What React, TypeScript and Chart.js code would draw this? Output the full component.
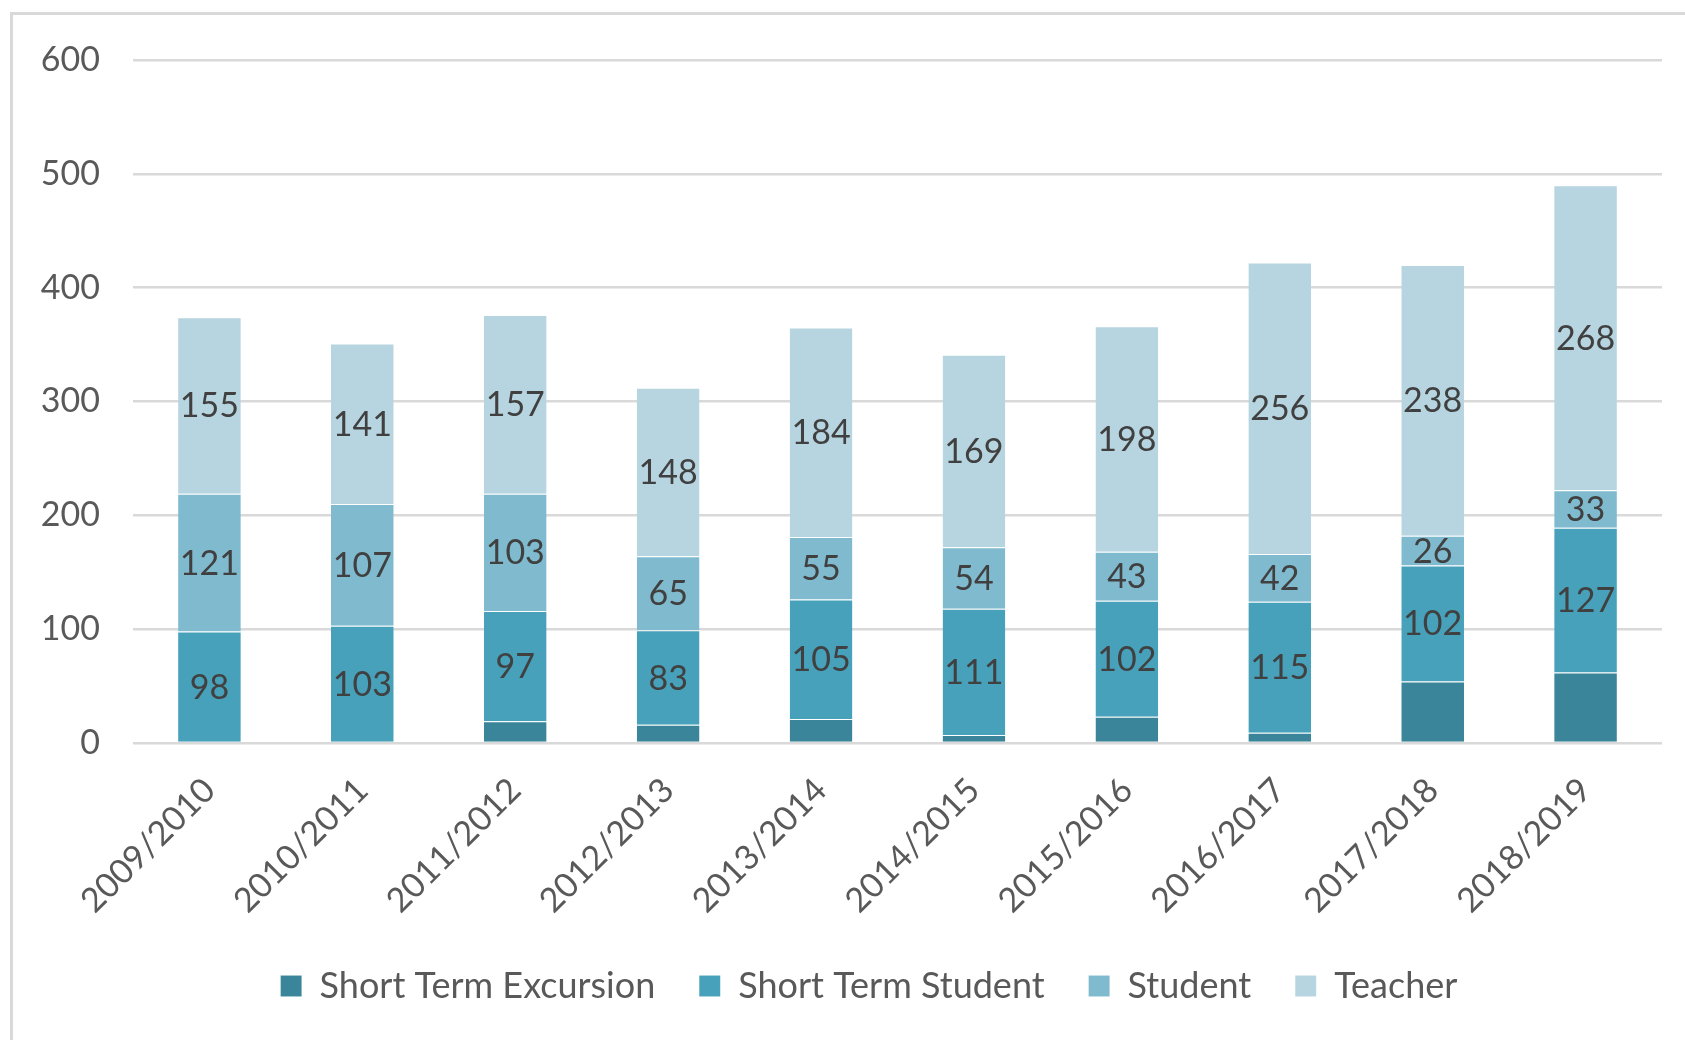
import React, { useEffect, useRef } from "react";
import { Chart, registerables } from "chart.js";

Chart.register(...registerables);

const categories = [
  "2009/2010", "2010/2011", "2011/2012", "2012/2013", "2013/2014",
  "2014/2015", "2015/2016", "2016/2017", "2017/2018", "2018/2019",
];
const shortTermExcursion = [0, 0, 19, 16, 21, 7, 23, 9, 54, 62];
const shortTermStudent = [98, 103, 97, 83, 105, 111, 102, 115, 102, 127];
const student = [121, 107, 103, 65, 55, 54, 43, 42, 26, 33];
const teacher = [155, 141, 157, 148, 184, 169, 198, 256, 238, 268];
const seriesNames = ["Short Term Excursion", "Short Term Student", "Student", "Teacher"];
const seriesColors = ["#3A8599", "#47A1BA", "#7FBACF", "#B7D5E0"];
const labelledSeries = [false, true, true, true];
const yTicks = [0, 100, 200, 300, 400, 500, 600];

const FONT = "Lato";

const dataLabelPlugin = {
  id: "segLabels",
  afterDatasetsDraw(chart: any) {
    const ctx = chart.ctx;
    ctx.save();
    ctx.font = `34px ${FONT}`;
    ctx.fillStyle = "#404040";
    ctx.textAlign = "center";
    ctx.textBaseline = "middle";
    chart.data.datasets.forEach((ds: any, i: number) => {
      if (!labelledSeries[i]) return;
      const meta = chart.getDatasetMeta(i);
      meta.data.forEach((bar: any, j: number) => {
        const p = bar.getProps(["x", "y", "base"], true);
        ctx.fillText(String(ds.data[j]), p.x, (p.y + p.base) / 2 + 1);
      });
    });
    ctx.restore();
  },
};

// shift the legend block so it is centred under the plot area like the reference
const legendShiftPlugin = {
  id: "legendShift",
  afterLayout(chart: any) {
    if (chart.legend) {
      chart.legend.left += 76;
    }
  },
};

export default function App() {
  const ref = useRef<HTMLCanvasElement>(null);
  useEffect(() => {
    const canvas = ref.current!;
    const values = [shortTermExcursion, shortTermStudent, student, teacher];
    const chart = new Chart(canvas, {
      type: "bar",
      data: {
        labels: categories,
        datasets: values.map((v, i) => ({
          label: seriesNames[i],
          data: v,
          backgroundColor: seriesColors[i],
          borderColor: "rgba(255,255,255,0.35)",
          borderWidth: { top: 1, bottom: 0, left: 0, right: 0 },
          borderSkipped: false,
          barPercentage: 0.41,
          categoryPercentage: 1,
        })),
      },
      options: {
        responsive: false,
        animation: false,
        devicePixelRatio: 1,
        layout: { padding: { top: 60, left: 0, right: 23, bottom: 26 } },
        plugins: {
          tooltip: { enabled: false },
          legend: {
            position: "bottom",
            labels: {
              font: { family: FONT, size: 36 },
              color: "#595959",
              boxWidth: 21,
              boxHeight: 21,
              padding: 44,
            },
          },
        },
        scales: {
          x: {
            stacked: true,
            grid: { display: false, drawTicks: false },
            border: { display: false },
            ticks: {
              font: { family: FONT, size: 34 },
              color: "#595959",
              maxRotation: 45,
              minRotation: 45,
              autoSkip: false,
              padding: 27,
            },
            afterFit(scale: any) {
              scale.height = 181;
            },
          },
          y: {
            stacked: true,
            min: 0,
            max: 600,
            afterBuildTicks(scale: any) {
              scale.ticks = yTicks.map((v) => ({ value: v }));
            },
            grid: { color: "#D9D9D9", lineWidth: 2.5, drawTicks: false },
            border: { display: false },
            ticks: {
              font: { family: FONT, size: 34 },
              color: "#595959",
              padding: 33,
            },
            afterFit(scale: any) {
              scale.width = 133;
            },
          },
        },
      },
      plugins: [dataLabelPlugin, legendShiftPlugin],
    });
    return () => chart.destroy();
  }, []);

  return (
    <div
      style={{
        position: "fixed",
        left: 0,
        top: 0,
        width: 1685,
        height: 1040,
        overflow: "hidden",
        background: "#fff",
      }}
    >
      <div
        style={{
          position: "absolute",
          left: 10,
          top: 12,
          width: 1800,
          height: 1200,
          border: "3px solid #D9D9D9",
        }}
      />
      <canvas
        ref={ref}
        width={1685}
        height={1040}
        style={{ position: "absolute", left: 0, top: 0, width: 1685, height: 1040 }}
      />
    </div>
  );
}
